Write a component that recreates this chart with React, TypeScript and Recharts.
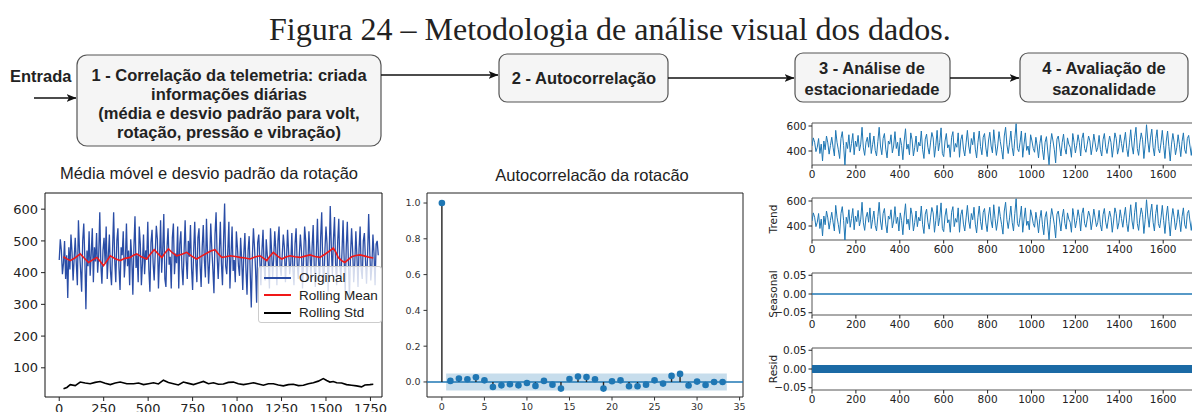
import {
  LineChart,
  Line,
  XAxis,
  YAxis,
  ReferenceArea,
  ReferenceLine,
  ScatterChart,
  Scatter,
} from 'recharts';

// rotação diária (amostrada a cada 6 dias)
const passo = 6;
const rotacao = [
  440, 505, 470, 395, 430, 500, 380, 455, 320, 480, 410, 520, 465, 375, 445, 510, 430, 360, 565, 470,
  410, 340, 500, 555, 445, 285, 470, 420, 530, 390, 460, 540, 370, 480, 435, 525, 400, 455, 590, 425,
  365, 470, 510, 430, 545, 380, 450, 520, 405, 360, 475, 590, 440, 370, 500, 540, 415, 345, 480, 455,
  530, 385, 440, 555, 420, 470, 360, 505, 445, 330, 480, 578, 415, 455, 370, 545, 490, 360, 430, 520,
  395, 470, 440, 560, 410, 340, 495, 535, 430, 375, 465, 548, 505, 350, 445, 565, 400, 470, 585, 380,
  355, 480, 540, 425, 450, 350, 510, 555, 395, 460, 430, 545, 350, 490, 530, 415, 360, 465, 565, 440,
  380, 500, 450, 550, 415, 345, 470, 560, 435, 370, 510, 540, 425, 355, 480, 550, 440, 385, 570, 460,
  365, 440, 555, 475, 410, 335, 520, 590, 450, 380, 465, 560, 430, 360, 500, 618, 420, 395, 470, 560,
  350, 455, 545, 405, 440, 370, 530, 480, 420, 390, 510, 440, 345, 460, 525, 410, 330, 470, 515, 400,
  290, 450, 540, 480, 410, 305, 495, 520, 440, 360, 470, 535, 420, 375, 505, 455, 430, 350, 540, 470,
  385, 445, 530, 470, 360, 500, 545, 420, 390, 455, 520, 480, 370, 440, 535, 465, 395, 430, 525, 410,
  360, 490, 540, 430, 380, 455, 520, 470, 350, 440, 545, 500, 375, 425, 530, 460, 390, 480, 550, 420,
  355, 465, 570, 440, 375, 510, 590, 420, 365, 470, 545, 490, 340, 450, 610, 480, 390, 505, 575, 430,
  360, 500, 570, 420, 385, 465, 565, 445, 340, 480, 560, 435, 320, 455, 540, 470, 370, 430, 530, 450,
  355, 475, 545, 410, 380, 500, 525, 440, 365, 455, 585, 470, 375, 420, 520, 460, 360, 490, 500, 455,
];

const mediaX = [
  24, 40, 62, 90, 118, 140, 165, 190, 212, 230, 249, 268, 287, 315, 343, 370, 399, 418,
  436, 465, 492, 512, 534, 555, 577, 596, 614, 638, 661, 690, 717, 745, 773, 800, 829,
  852, 876, 895, 914, 938, 961, 990, 1017, 1045, 1073, 1100, 1129, 1148, 1167, 1185,
  1204, 1228, 1251, 1275, 1298, 1326, 1354, 1382, 1410, 1438, 1466, 1494, 1522, 1541,
  1555, 1569, 1588, 1606, 1625, 1644, 1668, 1691, 1720, 1747, 1766,
];
const mediaY = [
  450, 444, 438, 447, 459, 446, 432, 441, 448, 436, 422, 437, 453, 444, 438, 445, 448, 455,
  459, 449, 443, 458, 472, 460, 448, 463, 475, 462, 453, 458, 464, 452, 443, 452, 461,
  468, 472, 459, 448, 450, 453, 451, 448, 446, 443, 449, 453, 446, 438, 452,
  464, 452, 443, 449, 453, 450, 448, 452, 456, 451, 448, 458, 469, 478,
  465, 448, 438, 432, 441, 450, 454, 456, 452, 448, 446,
];

const desvioX = [
  24, 43, 62, 90, 118, 146, 174, 202, 230, 258, 287, 315, 343, 380, 418, 446, 474, 502,
  530, 558, 586, 614, 642, 670, 698, 727, 755, 783, 811, 839, 867, 895, 923, 951, 979,
  1007, 1036, 1064, 1092, 1120, 1148, 1176, 1204, 1232, 1260, 1288, 1316, 1345, 1373,
  1401, 1429, 1457, 1485, 1504, 1522, 1541, 1560, 1588, 1616, 1644, 1672, 1700, 1719,
  1747, 1766,
];
const desvioY = [
  34, 38, 47, 44, 55, 52, 50, 54, 57, 51, 47, 52, 55, 50, 50, 52, 47, 50,
  53, 49, 61, 54, 50, 46, 55, 51, 47, 52, 57, 50, 53, 48, 49, 54, 55,
  50, 47, 50, 53, 49, 45, 50, 50, 46, 43, 47, 48, 44, 45,
  50, 53, 58, 66, 60, 55, 57, 53, 52, 47, 45, 43, 40, 46,
  47, 48,
];

// autocorrelação por defasagem
const lags = [
  0, 1, 2, 3, 4, 5, 6, 7, 8, 9, 10, 11, 12, 13, 14, 15, 16, 17, 18, 19, 20, 21, 22, 23, 24,
  25, 26, 27, 28, 29, 30, 31, 32, 33,
];
const acf = [
  1.0, 0.006, 0.019, 0.015, 0.026, 0.009, -0.028, -0.019, -0.013, -0.019, -0.006, -0.022,
  0.006, -0.015, -0.037, 0.017, 0.03, 0.028, 0.015, -0.037, 0.004, 0.009, -0.024, -0.024,
  -0.015, 0.009, -0.009, 0.034, 0.045, -0.02, 0.002, -0.017, 0.0, 0.0,
];
const confianca = 0.047;

// componentes sazonal e resíduo (praticamente nulos)
const componenteX = [0, 1795];
const sazonal = [0, 0];
const residuo = [0, 0];

const ticksMedia = [0, 250, 500, 750, 1000, 1250, 1500, 1750];
const ticksDecomp = [0, 200, 400, 600, 800, 1000, 1200, 1400, 1600];

const serieOriginal = rotacao.map((v, i) => ({ x: i * passo, y: v }));
const serieMedia = mediaX.map((x, i) => ({ x, y: mediaY[i] }));
const serieDesvio = desvioX.map((x, i) => ({ x, y: desvioY[i] }));
const serieAcf = lags.map((lag, i) => ({ lag, valor: acf[i] }));
const serieSazonal = componenteX.map((x, i) => ({ x, y: sazonal[i] }));
const serieResiduo = componenteX.map((x, i) => ({ x, y: residuo[i] }));

const sans = '"Liberation Sans", Arial, sans-serif';
const tickFont = '"DejaVu Sans", sans-serif';
const fmtMenos = (v: number, d: number) => (v < 0 ? '\u2212' + Math.abs(v).toFixed(d) : v.toFixed(d));

function Fluxograma() {
  const caixa = { fill: '#f5f5f5', stroke: '#555', strokeWidth: 1.2 };
  const texto = { fontFamily: sans, fontWeight: 700, fontSize: 16.5, fill: '#222' } as const;
  return (
    <svg width={1192} height={412} style={{ position: 'absolute', left: 0, top: 0 }}>
      <defs>
        <marker id="seta" viewBox="0 0 10 10" refX="9.5" refY="5" markerWidth="10" markerHeight="10"
          markerUnits="userSpaceOnUse" orient="auto">
          <path d="M0,1 L10,5 L0,9 L2.5,5 Z" fill="#111" />
        </marker>
      </defs>
      <text x={269} y={40} fontFamily='"Liberation Serif", "Times New Roman", serif' fontSize={32} fill="#222">
        Figura 24 – Metodologia de análise visual dos dados.
      </text>

      <text x={10} y={82} {...texto}>Entrada</text>
      <line x1={34} y1={98} x2={76} y2={98} stroke="#111" strokeWidth={1.4} markerEnd="url(#seta)" />

      <rect x={77} y={55} width={304} height={91} rx={10} {...caixa} />
      <text x={229} textAnchor="middle" {...texto}>
        <tspan x={229} y={81}>1 - Correlação da telemetria: criada</tspan>
        <tspan x={229} y={100}>informações diárias</tspan>
        <tspan x={229} y={119}>(média e desvio padrão para volt,</tspan>
        <tspan x={229} y={138}>rotação, pressão e vibração)</tspan>
      </text>
      <line x1={381} y1={75} x2={498} y2={75} stroke="#111" strokeWidth={1.4} markerEnd="url(#seta)" />

      <rect x={499} y={54} width={169} height={48} rx={8} {...caixa} />
      <text x={584} y={84} textAnchor="middle" {...texto}>2 - Autocorrelação</text>
      <line x1={668} y1={78} x2={794} y2={78} stroke="#111" strokeWidth={1.4} markerEnd="url(#seta)" />

      <rect x={795} y={53} width={155} height={49} rx={8} {...caixa} />
      <text x={872} textAnchor="middle" {...texto}>
        <tspan x={872} y={74}>3 - Análise de</tspan>
        <tspan x={872} y={95}>estacionariedade</tspan>
      </text>
      <line x1={950} y1={78} x2={1019} y2={78} stroke="#111" strokeWidth={1.4} markerEnd="url(#seta)" />

      <rect x={1020} y={53} width={168} height={49} rx={8} {...caixa} />
      <text x={1104} textAnchor="middle" {...texto}>
        <tspan x={1104} y={74}>4 - Avaliação de</tspan>
        <tspan x={1104} y={95}>sazonalidade</tspan>
      </text>

      <text x={209} y={179} textAnchor="middle" fontFamily={sans} fontSize={16.5} fill="#222">
        Média móvel e desvio padrão da rotação
      </text>
      <text x={592} y={181} textAnchor="middle" fontFamily={sans} fontSize={16.5} fill="#222">
        Autocorrelacão da rotacão
      </text>
    </svg>
  );
}

function MediaMovel() {
  const tick = { fontSize: 13, fill: '#222', fontFamily: tickFont };
  const legenda = [
    { nome: 'Original', cor: '#2a4da6' },
    { nome: 'Rolling Mean', cor: '#f01818' },
    { nome: 'Rolling Std', cor: '#000' },
  ];
  return (
    <div style={{ position: 'absolute', left: 0, top: 160, width: 390, height: 270 }}>
      <LineChart width={390} height={270} margin={{ top: 33, right: 8, bottom: 0, left: 3 }}>
        <XAxis dataKey="x" type="number" domain={[-80, 1815]} ticks={ticksMedia} allowDataOverflow
          height={33} tickSize={4} tickMargin={3} axisLine={false} tickLine={{ stroke: '#222' }} tick={tick} />
        <YAxis type="number" domain={[8, 651]} ticks={[100, 200, 300, 400, 500, 600]} allowDataOverflow
          width={42} tickSize={4} tickMargin={3} axisLine={false} tickLine={{ stroke: '#222' }} tick={tick} />
        <Line data={serieOriginal} dataKey="y" stroke="#2a4da6" strokeWidth={1.3} dot={false} isAnimationActive={false} />
        <Line data={serieMedia} dataKey="y" stroke="#f01818" strokeWidth={1.6} dot={false} isAnimationActive={false} />
        <Line data={serieDesvio} dataKey="y" stroke="#000" strokeWidth={1.6} dot={false} isAnimationActive={false} />
        <ReferenceArea x1={-80} x2={1815} y1={8} y2={651} fill="none" stroke="#111" strokeWidth={1} ifOverflow="visible" />
      </LineChart>
      <div style={{
        position: 'absolute', left: 258, top: 106, width: 124, height: 57, boxSizing: 'border-box',
        background: 'rgba(255,255,255,0.8)', border: '1px solid #ccc', borderRadius: 3,
        fontFamily: sans, fontSize: 13.5, color: '#222', padding: '2px 0 0 5px', whiteSpace: 'nowrap',
      }}>
        {legenda.map((l) => (
          <div key={l.nome} style={{ display: 'flex', alignItems: 'center', height: 17.5 }}>
            <span style={{ display: 'inline-block', width: 27, height: 2, background: l.cor, marginRight: 8 }} />
            {l.nome}
          </div>
        ))}
      </div>
    </div>
  );
}

function Autocorrelacao() {
  const tick = { fontSize: 9.5, fill: '#333', fontFamily: tickFont };
  return (
    <div style={{ position: 'absolute', left: 390, top: 160, width: 360, height: 270 }}>
      <ScatterChart width={360} height={270} margin={{ top: 33, right: 7, bottom: 0, left: 0 }}>
        <XAxis dataKey="lag" type="number" domain={[-1.75, 35.4]} ticks={[0, 5, 10, 15, 20, 25, 30, 35]}
          allowDataOverflow height={33} tickSize={3.5} tickMargin={3} axisLine={false} tickLine={{ stroke: '#333' }} tick={tick} />
        <YAxis dataKey="valor" type="number" domain={[-0.084, 1.056]} ticks={[0, 0.2, 0.4, 0.6, 0.8, 1.0]}
          allowDataOverflow width={37} tickSize={3.5} tickMargin={3} axisLine={false} tickLine={{ stroke: '#333' }}
          tick={tick} tickFormatter={(v: number) => v.toFixed(1)} />
        <ReferenceArea x1={0.5} x2={33.5} y1={-confianca} y2={confianca} fill="#1f77b4" fillOpacity={0.25} stroke="none" />
        <ReferenceLine y={0} stroke="#1f77b4" strokeWidth={1.4} />
        {serieAcf.map((d) => (
          <ReferenceLine key={d.lag} segment={[{ x: d.lag, y: 0 }, { x: d.lag, y: d.valor }]} stroke="#222" strokeWidth={1.4} />
        ))}
        <Scatter data={serieAcf} isAnimationActive={false}
          shape={(p: any) => <circle cx={p.cx} cy={p.cy} r={3.3} fill="#1f77b4" />} />
        <ReferenceArea x1={-1.75} x2={35.4} y1={-0.084} y2={1.056} fill="none" stroke="#222" strokeWidth={1} ifOverflow="visible" />
      </ScatterChart>
    </div>
  );
}

interface PainelProps {
  top: number;
  data: { x: number; y: number }[];
  domain: [number, number];
  ticks: number[];
  rotulo?: string;
  casas: number;
  espessura: number;
  cor: string;
}

function Painel({ top, data, domain, ticks, rotulo, casas, espessura, cor }: PainelProps) {
  const tick = { fontSize: 10.5, fill: '#222', fontFamily: tickFont };
  return (
    <div style={{ position: 'absolute', left: 760, top, width: 446, height: 77 }}>
      <LineChart width={446} height={77} margin={{ top: 13, right: 0, bottom: 0, left: 0 }}>
        <XAxis dataKey="x" type="number" domain={[0, 1795]} ticks={ticksDecomp} allowDataOverflow
          height={22} tickSize={3.5} tickMargin={2} axisLine={false} tickLine={{ stroke: '#222' }} tick={tick} />
        <YAxis type="number" domain={domain} ticks={ticks} allowDataOverflow width={52} tickSize={3.5}
          tickMargin={2} axisLine={false} tickLine={{ stroke: '#222' }} tick={tick}
          tickFormatter={(v: number) => fmtMenos(v, casas)}
          label={rotulo ? (props: any) => {
            const vb = props.viewBox;
            const cx = vb.x + 13;
            const cy = vb.y + vb.height / 2;
            return (
              <text x={cx} y={cy} transform={`rotate(-90, ${cx}, ${cy})`} textAnchor="middle"
                dominantBaseline="central" fontSize={10.5} fontFamily={tickFont} fill="#222">
                {rotulo}
              </text>
            );
          } : undefined} />
        <Line data={data} dataKey="y" stroke={cor} strokeWidth={espessura} dot={false} isAnimationActive={false} />
        <ReferenceArea x1={0} x2={1795} y1={domain[0]} y2={domain[1]} fill="none" stroke="#555" strokeWidth={1}
          ifOverflow="visible" />
      </LineChart>
    </div>
  );
}

function Decomposicao() {
  const serieDecomp = rotacao.map((v, i) => ({ x: i * passo, y: v }));
  return (
    <>
      <Painel top={110} data={serieDecomp} domain={[288, 624]} ticks={[400, 600]} casas={0} espessura={1} cor="#1f77b4" />
      <Painel top={185} data={serieDecomp} domain={[288, 624]} ticks={[400, 600]} casas={0} espessura={1} cor="#1f77b4" rotulo="Trend" />
      <Painel top={260} data={serieSazonal} domain={[-0.056, 0.056]} ticks={[-0.05, 0, 0.05]} casas={2} espessura={1.5} cor="#1f77b4" rotulo="Seasonal" />
      <Painel top={335} data={serieResiduo} domain={[-0.056, 0.056]} ticks={[-0.05, 0, 0.05]} casas={2} espessura={8} cor="#1b6aa5" rotulo="Resid" />
    </>
  );
}

export default function App() {
  return (
    <div style={{ position: 'absolute', left: 0, top: 0, width: 1192, height: 412, overflow: 'hidden', background: '#fff' }}>
      <Fluxograma />
      <MediaMovel />
      <Autocorrelacao />
      <Decomposicao />
    </div>
  );
}
